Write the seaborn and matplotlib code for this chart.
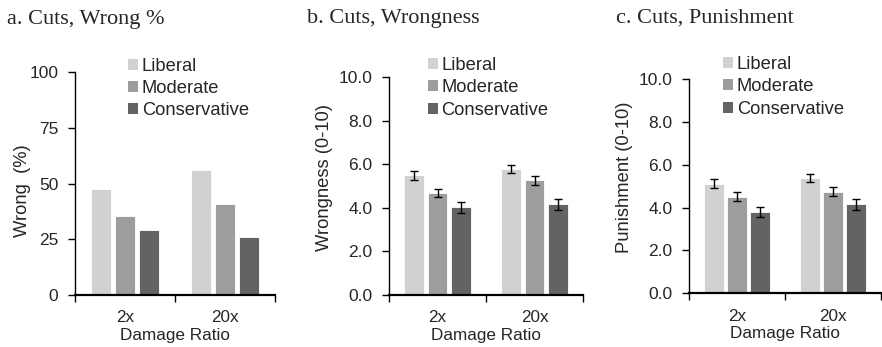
import matplotlib
matplotlib.use("Agg")
import matplotlib.pyplot as plt
from matplotlib.patches import Patch
import seaborn as sns
import pandas as pd

# Data
ratios = ["2x", "20x"]
groups = ["Liberal", "Moderate", "Conservative"]
colors = ["#d0d1d0", "#9c9d9c", "#636363"]

wrong_pct = {"Liberal": [47.5, 56.0], "Moderate": [35.4, 40.8], "Conservative": [29.1, 26.1]}

wrongness = {"Liberal": [5.5, 5.8], "Moderate": [4.67, 5.27], "Conservative": [4.02, 4.17]}
wrongness_err = {"Liberal": [0.20, 0.18], "Moderate": [0.19, 0.21], "Conservative": [0.24, 0.25]}

punishment = {"Liberal": [5.11, 5.37], "Moderate": [4.51, 4.74], "Conservative": [3.79, 4.15]}
punishment_err = {"Liberal": [0.21, 0.19], "Moderate": [0.21, 0.21], "Conservative": [0.23, 0.24]}

titles = ["a. Cuts, Wrong %", "b. Cuts, Wrongness", "c. Cuts, Punishment"]
ylabels = ["Wrong  (%)", "Wrongness (0-10)", "Punishment (0-10)"]
xlabel = "Damage Ratio"

sns.set_style("ticks")
plt.rcParams["font.family"] = ["Liberation Sans", "DejaVu Sans"]

W, H = 882, 347
fig = plt.figure(figsize=(W / 100, H / 100), dpi=100)


def px_axes(left, right, top, bottom):
    return fig.add_axes([left / W, (H - bottom) / H, (right - left) / W, (bottom - top) / H])


def long_frame(values):
    rows = []
    for g in groups:
        for r, v in zip(ratios, values[g]):
            rows.append({"ratio": r, "group": g, "value": v})
    return pd.DataFrame(rows)


panels = [
    dict(box=(75, 275, 72, 295), vals=wrong_pct, errs=None, ylim=100, yticks=[0, 25, 50, 75, 100],
         fmt="{:.0f}", leg=(0.265, 1.062), ylab=(-0.2625, 0.466)),
    dict(box=(389, 583, 77.3, 295), vals=wrongness, errs=wrongness_err, ylim=10, yticks=[0, 2, 4, 6, 8, 10],
         fmt="{:.1f}", leg=(0.2, 1.092), ylab=(-0.33, 0.54)),
    dict(box=(689, 881, 79, 293.3), vals=punishment, errs=punishment_err, ylim=10, yticks=[0, 2, 4, 6, 8, 10],
         fmt="{:.1f}", leg=(0.177, 1.106), ylab=(-0.335, 0.54)),
]
title_pos = [(7, 24), (307, 23), (616, 23)]

for i, p in enumerate(panels):
    ax = px_axes(*p["box"])
    df = long_frame(p["vals"])
    sns.barplot(data=df, x="ratio", y="value", hue="group", order=ratios, hue_order=groups,
                palette=colors, width=0.72, gap=0.15, errorbar=None, legend=False,
                edgecolor="white", linewidth=0.6, ax=ax)
    if p["errs"] is not None:
        for cont, g in zip(ax.containers, groups):
            xs = [b.get_x() + b.get_width() / 2 for b in cont]
            ax.errorbar(xs, p["vals"][g], yerr=p["errs"][g], fmt="none", ecolor="black",
                        elinewidth=1.0, capsize=2.9, capthick=1.0, zorder=5)

    ax.set_ylim(0, p["ylim"])
    ax.set_yticks(p["yticks"])
    ax.set_yticklabels([p["fmt"].format(t) for t in p["yticks"]])
    ax.set_xlim(-0.5, 1.5)
    ax.set_xticks([-0.5, 0.5, 1.5])
    ax.set_xticklabels([])
    ax.set_xticks([0, 1], minor=True)
    ax.set_xticklabels(ratios, minor=True)
    ax.tick_params(axis="x", which="major", length=5, width=1, direction="out", color="black")
    ax.tick_params(axis="x", which="minor", length=0, pad=11, labelsize=12.3)
    ax.tick_params(axis="y", length=5, width=1, direction="out", color="black", labelsize=12.5, pad=7)

    ax.set_xlabel(xlabel, fontsize=12.3, labelpad=2)
    ax.set_ylabel(ylabels[i], fontsize=13.2)
    ax.yaxis.set_label_coords(*p["ylab"])
    ax.yaxis.label.set_verticalalignment("center")

    for s in ["top", "right"]:
        ax.spines[s].set_visible(False)
    ax.spines["left"].set_linewidth(1.0)
    ax.spines["left"].set_color("black")
    ax.spines["bottom"].set_linewidth(1.6)
    ax.spines["bottom"].set_color("black")

    handles = [Patch(facecolor=c, edgecolor="none") for c in colors]
    ax.legend(handles, groups, loc="upper left", bbox_to_anchor=p["leg"], frameon=False,
              fontsize=13.2, handlelength=0.55, handleheight=0.55, handletextpad=0.2,
              labelspacing=0.28, borderpad=0, borderaxespad=0)

    fig.text(title_pos[i][0] / W, 1 - title_pos[i][1] / H, titles[i], fontsize=16,
             family=["Liberation Serif", "DejaVu Serif"], va="baseline", ha="left")

fig.savefig("out.png", dpi=100)
